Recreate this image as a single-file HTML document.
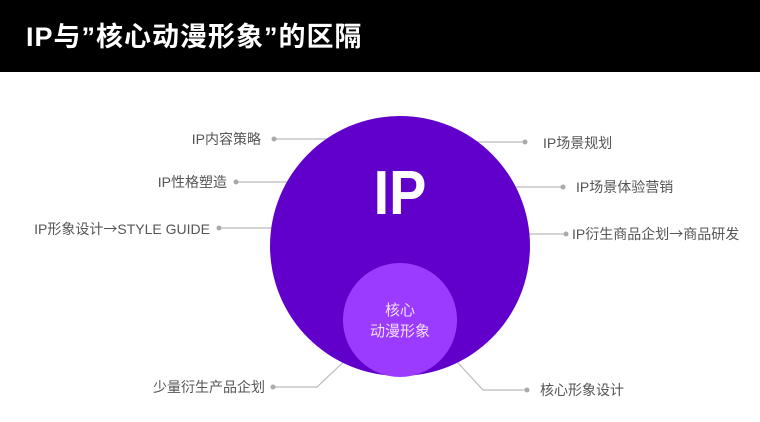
<!DOCTYPE html>
<html><head><meta charset="utf-8"><style>
body{margin:0;width:760px;height:422px;background:#fff;overflow:hidden;position:relative;font-family:"Liberation Sans","Noto Sans CJK SC",sans-serif}
.hd{position:absolute;left:0;top:0;width:760px;height:72px;background:#000}
.hd span{position:absolute;left:26px;top:15px;color:#fff;font-size:27px;font-weight:bold;letter-spacing:1px;font-family:"Liberation Sans","Noto Sans CJK SC",sans-serif}
.t{position:absolute;font-size:14px;color:#555;white-space:nowrap;line-height:16px}
.a{font-family:"Noto Sans CJK SC",sans-serif}
</style></head><body>
<div class="hd"><span>IP与<span class="a" style="position:static">”</span>核心动漫形象<span class="a" style="position:static">”</span>的区隔</span></div>
<svg width="760" height="422" style="position:absolute;left:0;top:0">
<g stroke="#bbb" stroke-width="1.2" fill="none">
<line x1="274" y1="139" x2="330" y2="139"/>
<line x1="236" y1="182" x2="290" y2="182"/>
<line x1="219" y1="228" x2="275" y2="228"/>
<line x1="525" y1="142" x2="470" y2="142"/>
<line x1="563" y1="187" x2="510" y2="187"/>
<line x1="566" y1="234" x2="520" y2="234"/>
<polyline points="353,353 317,387 273,387"/>
<polyline points="448,352 483,390 527,390"/>
</g>
<g fill="#aaa">
<circle cx="274" cy="139" r="2.5"/><circle cx="236" cy="182" r="2.5"/><circle cx="219" cy="228" r="2.5"/>
<circle cx="525" cy="142" r="2.5"/><circle cx="563" cy="187" r="2.5"/><circle cx="566" cy="234" r="2.5"/>
<circle cx="273" cy="387" r="2.5"/><circle cx="527" cy="390" r="2.5"/>
</g>
<circle cx="400" cy="246" r="130" fill="#6200cb"/>
<circle cx="400" cy="320" r="57" fill="#9a3bff"/>
<text x="400" y="214" fill="#fff" font-size="62" font-weight="bold" text-anchor="middle" font-family="Liberation Sans,sans-serif" transform="translate(400 0) scale(0.9 1) translate(-400 0)">IP</text>
<text x="400" y="315" fill="#f0e0ff" font-size="15" text-anchor="middle" font-family="Liberation Sans,Noto Sans CJK SC,sans-serif">核心</text>
<text x="400" y="336" fill="#f0e0ff" font-size="15" text-anchor="middle" font-family="Liberation Sans,Noto Sans CJK SC,sans-serif">动漫形象</text>
</svg>
<div class="t" style="right:499px;top:131px">IP内容策略</div>
<div class="t" style="right:533px;top:174px">IP性格塑造</div>
<div class="t" style="right:550px;top:221px">IP形象设计<span class="a">→</span>STYLE GUIDE</div>
<div class="t" style="left:543px;top:135px">IP场景规划</div>
<div class="t" style="left:576px;top:179px">IP场景体验营销</div>
<div class="t" style="left:572px;top:226px">IP衍生商品企划<span class="a">→</span>商品研发</div>
<div class="t" style="right:495px;top:379px">少量衍生产品企划</div>
<div class="t" style="left:540px;top:382px">核心形象设计</div>
</body></html>
